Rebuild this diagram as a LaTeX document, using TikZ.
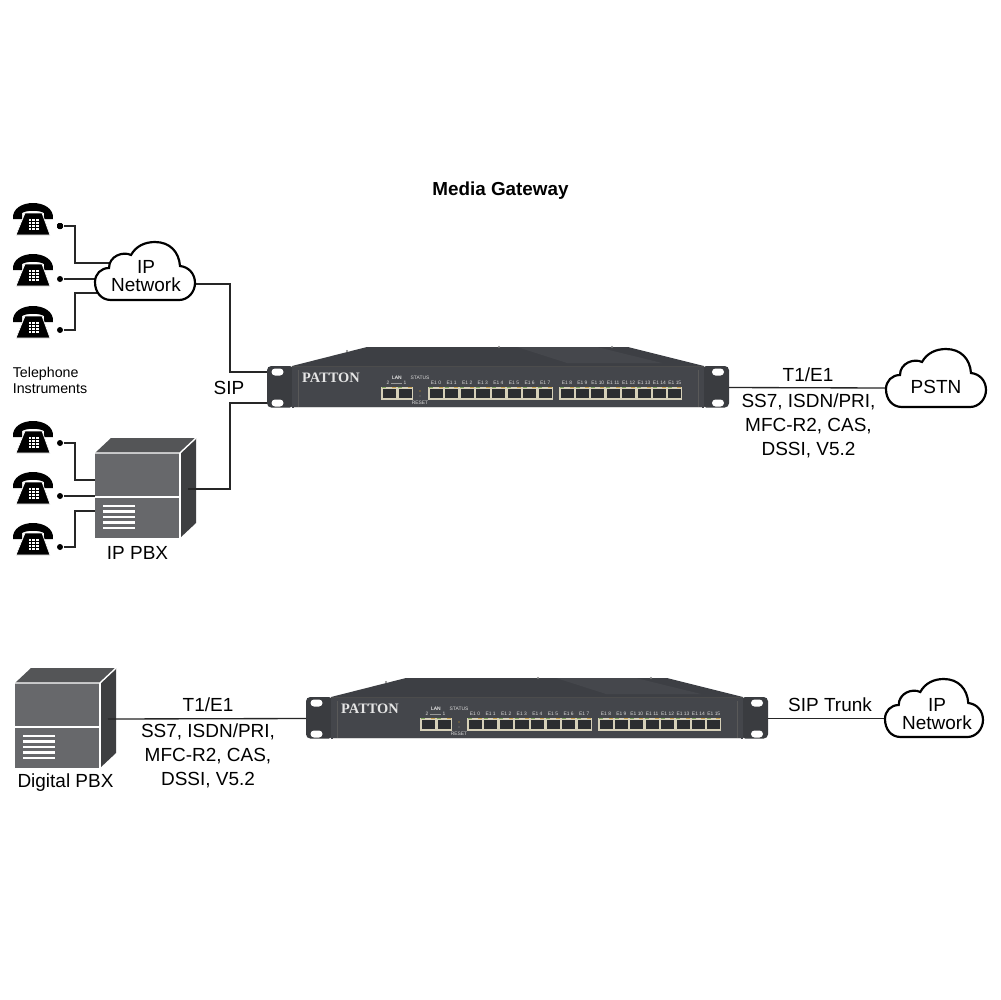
\documentclass[tikz,border=0pt]{standalone}
\usepackage{fontspec}
\setmainfont{Liberation Sans}
\newfontfamily\logofont{Liberation Serif}
\definecolor{boxfront}{HTML}{67686B}
\definecolor{boxtop}{HTML}{545557}
\definecolor{boxside}{HTML}{3E3F41}
\definecolor{gwfront}{HTML}{44464B}
\definecolor{gwtop}{HTML}{3D3F44}
\definecolor{gwtoplight}{HTML}{45474C}
\definecolor{gwear}{HTML}{3A3C40}
\definecolor{portframe}{HTML}{D6D0B8}
\definecolor{portdark}{HTML}{2B2D30}
\definecolor{ledgreen}{HTML}{7FA35A}
\definecolor{ledamber}{HTML}{C9A24E}
\tikzset{
  lbl/.style={font=\fontsize{5.4}{6.8}\selectfont, align=center, inner sep=0pt},
  cloudlbl/.style={font=\fontsize{5.4}{5.2}\selectfont, align=center, inner sep=0pt},
  smalllbl/.style={font=\fontsize{4.05}{4.6}\selectfont, align=left, inner sep=0pt},
  portlbl/.style={font=\fontsize{1.4}{1.6}\selectfont, text=white!85!black, inner sep=0pt},
  wire/.style={line width=0.5pt, draw=black!85},
  thinwire/.style={line width=0.38pt, draw=black!85},
  dotend/.style={circle, fill=black, inner sep=0pt, minimum size=0.6mm},
  cloudline/.style={line width=0.62pt, fill=white, draw=black},
}
% telephone, #2 #3 = top left corner
\newcommand{\phoneicon}[3]{
  \begin{scope}[shift={(#2,#3)}]
    \fill[black] (0,16) .. controls (-1,5) and (10,0) .. (20,0) .. controls (30,0) and (41,5) .. (40,16) -- (31,16) -- (31,10) .. controls (26,7) and (14,7) .. (9,10) -- (9,16) -- cycle;
    \fill[black, draw=white, line width=0.2pt] (12,10) -- (29,10) -- (37,32) -- (3,32) -- cycle;
    \foreach \r in {0,...,3}
      \foreach \c in {0,1,2}
        \fill[white] ({15.5+\c*3.8},{15.5+\r*3.2}) rectangle ++(2.4,2.1);
    \node (#1) at (20,16) {};
  \end{scope}
}
% pbx cabinet, #2 #3 = top left corner of the front
\newcommand{\pbxbox}[3]{
  \begin{scope}[shift={(#2,#3)}]
    \fill[boxtop] (0,0) -- (16,-15) -- (101,-15) -- (85,0) -- cycle;
    \fill[boxside] (85,0) -- (101,-15) -- (101,70) -- (85,85) -- cycle;
    \node (#1) [fill=boxfront, inner sep=0pt, minimum size=8.5mm] at (42.5,42.5) {};
    \draw[white, line width=0.4pt] (0,0) -- (85,0) -- (101,-15);
    \draw[white, line width=0.4pt] (85,0) -- (85,85);
    \draw[white, line width=0.4pt] (0,44) -- (85,44);
    \foreach \v in {53,58.5,64,69.5,75}
      \draw[white, line width=0.6pt] (8,\v) -- (40,\v);
    \coordinate (#1-out) at (93,36);
  \end{scope}
}
% cloud outline, #1 #2 = top left corner, #3 = width scale
\newcommand{\cloudshape}[3]{
  \draw[cloudline, xscale=#3, shift={(#1/#3,#2)}] (0,40) .. controls (0,32) and (6,26) .. (14,26) .. controls (14,14) and (28,9) .. (36,13) .. controls (41,4) and (50,0) .. (60,0) .. controls (75,0) and (84,10) .. (85,24) .. controls (94,25) and (100,32) .. (100,41) .. controls (100,50) and (93,58) .. (84,58) -- (16,58) .. controls (6,58) and (0,50) .. (0,40) -- cycle;
}
% one rj45 port
\newcommand{\gwport}[2]{
  \fill[portframe] (#1,21) rectangle ++(#2,12.5);
  \fill[portdark] ({#1+1.6},22.6) rectangle ({#1+#2-0.8},32.2);
  \fill[ledgreen] ({#1+1.2},21) rectangle ++(4,1.4);
  \fill[ledamber] ({#1+#2-4.8},21) rectangle ++(4,1.4);
}
% gateway, #2 #3 = top left corner of the left ear
\newcommand{\gatewaybox}[3]{
  \begin{scope}[shift={(#2,#3)}]
    % top cover
    \fill[gwtop] (25,0) -- (100,-19) -- (361,-19) -- (437,0) -- cycle;
    \fill[gwtoplight] (250,-19) -- (330,-19) -- (395,-3) -- (300,-3) -- cycle;
    \foreach \s in {80,232,345}
      \fill[gray] (\s,{-19+(\s<100)*4}) circle (1.2);
    % ears and front
    \fill[gwear, rounded corners=1.2pt] (0,0) rectangle (27,41.5);
    \fill[gwear, rounded corners=1.2pt] (435,0) rectangle (462,41.5);
    \node (#1) [fill=gwfront, inner sep=0pt, minimum width=41.2mm, minimum height=4.15mm] at (231,20.75) {};
    \draw[black!70, line width=0.2pt] (25,0) -- (437,0);
    \draw[black!65, line width=0.2pt] (31,4) -- (31,41) (431,4) -- (431,41);
    \draw[black!15, line width=0.25pt] (27,41.7) -- (435,41.7);
    \foreach \hx in {10.5,451}
      \foreach \hy in {6,37}
        \fill[white, rounded corners=1pt] (\hx-6,\hy-3.5) rectangle (\hx+6,\hy+3.5);
    % logo
    \node (#1-logo) [inner sep=0pt, text=white!90!black, font=\fontsize{4.1}{4.2}\logofont\bfseries] at (64,12) {PATTON};
    % lan ports
    \foreach \n in {0,1}
      \gwport{114+\n*16}{16}
    \node (#1-lan) [portlbl] at (130,12) {LAN};
    \node (#1-two) [portlbl] at (121,17) {2};
    \node (#1-one) [portlbl] at (138,17) {1};
    \draw[white!60!black, line width=0.12pt] (124,17) -- (135,17);
    % status
    \node (#1-status) [portlbl] at (153,12) {STATUS};
    \node (#1-reset) [portlbl] at (153,37) {RESET};
    \fill[ledamber!70!black] (153,25) circle (0.9);
    \fill[black!60] (153,30) circle (0.8);
    % e1 ports
    \foreach \n in {0,...,7} {
      \gwport{161+\n*15.6}{15.6}
      \node (#1-a\n) [portlbl] at ({169+\n*15.6},17) {E1 \n};
    }
    \foreach \n [evaluate=\n as \m using int(\n+8)] in {0,...,7} {
      \gwport{292+\n*15.4}{15.4}
      \node (#1-b\n) [portlbl] at ({300+\n*15.4},17) {E1 \m};
    }
    \coordinate (#1-sipa) at (0,6);
    \coordinate (#1-sipb) at (0,37);
    \coordinate (#1-west) at (0,21.5);
    \coordinate (#1-east) at (462,21.5);
  \end{scope}
}
\begin{document}
\begin{tikzpicture}[x=0.1mm, y=-0.1mm]
  \path[fill=white] (0,0) rectangle (1000,1000);
  % Header
  \node (title) [lbl, font=\fontsize{5.36}{6.5}\selectfont\bfseries] at (500.5,191) {Media Gateway};
  % Phones
  \foreach \n/\py in {1/203, 2/254, 3/306, 4/421, 5/472, 6/523}
    \phoneicon{phone\n}{13}{\py}
  \node (dot1) [dotend] at (60,226) {};
  \node (dot2) [dotend] at (60,279) {};
  \node (dot3) [dotend] at (60,330) {};
  \node (dot4) [dotend] at (60,443) {};
  \node (dot5) [dotend] at (60,496) {};
  \node (dot6) [dotend] at (60,547) {};
  \node (tel) [smalllbl] at (50,380) {Telephone\\Instruments};
  % Devices
  \pbxbox{ippbx}{95}{453}
  \pbxbox{digpbx}{15}{683}
  \gatewaybox{gwa}{267}{366}
  \gatewaybox{gwb}{306}{697}
  % Free ends on the clouds and the cabinet
  \coordinate (ipin1) at (112,263);
  \coordinate (ipin2) at (97,279);
  \coordinate (ipin3) at (100,293);
  \coordinate (ipout) at (195,284);
  \coordinate (pbxin1) at (95,480);
  \coordinate (pbxin2) at (95,496);
  \coordinate (pbxin3) at (95,511);
  \coordinate (pstnin) at (886,388);
  \coordinate (ipbin) at (885,718.5);
  % Arrow
  \draw[wire] (dot1) -- ++(15,0) |- (ipin1);
  \draw[wire] (dot2) -- (ipin2);
  \draw[wire] (dot3) -- ++(15,0) |- (ipin3);
  \draw[wire] (dot4) -- ++(15,0) |- (pbxin1);
  \draw[wire] (dot5) -- (pbxin2);
  \draw[wire] (dot6) -- ++(15,0) |- (pbxin3);
  \draw[wire] (ipout) -- ++(35,0) |- (gwa-sipa);
  \draw[wire] (ippbx-out) -- ++(42,0) |- (gwa-sipb);
  \draw[thinwire] (gwa-east) -- (pstnin);
  \draw[thinwire] (digpbx-out) -- (gwb-west);
  \draw[thinwire] (gwb-east) -- (ipbin);
  % Clouds
  \cloudshape{95}{242}{1}
  \cloudshape{886}{349}{1}
  \cloudshape{885}{679}{0.98}
  \node (ipa) [cloudlbl] at (146,276) {IP\\Network};
  \node (pstn) [lbl] at (936,387) {PSTN};
  \node (ipb) [cloudlbl] at (937,714) {IP\\Network};
  % Labels
  \node (sip) [lbl] at (229,388) {SIP};
  \node (ippbxlbl) [lbl] at (137.5,553) {IP PBX};
  \node (digpbxlbl) [lbl] at (65.5,783) {Digital PBX};
  \node (t1a) [lbl] at (808,375) {T1/E1};
  \node (sigsa) [lbl] at (808.5,426) {SS7, ISDN/PRI,\\MFC-R2, CAS,\\DSSI, V5.2};
  \node (t1b) [lbl] at (208,705) {T1/E1};
  \node (sigsb) [lbl] at (208,756) {SS7, ISDN/PRI,\\MFC-R2, CAS,\\DSSI, V5.2};
  \node (trunk) [lbl] at (830,705) {SIP Trunk};
\end{tikzpicture}
\end{document}
